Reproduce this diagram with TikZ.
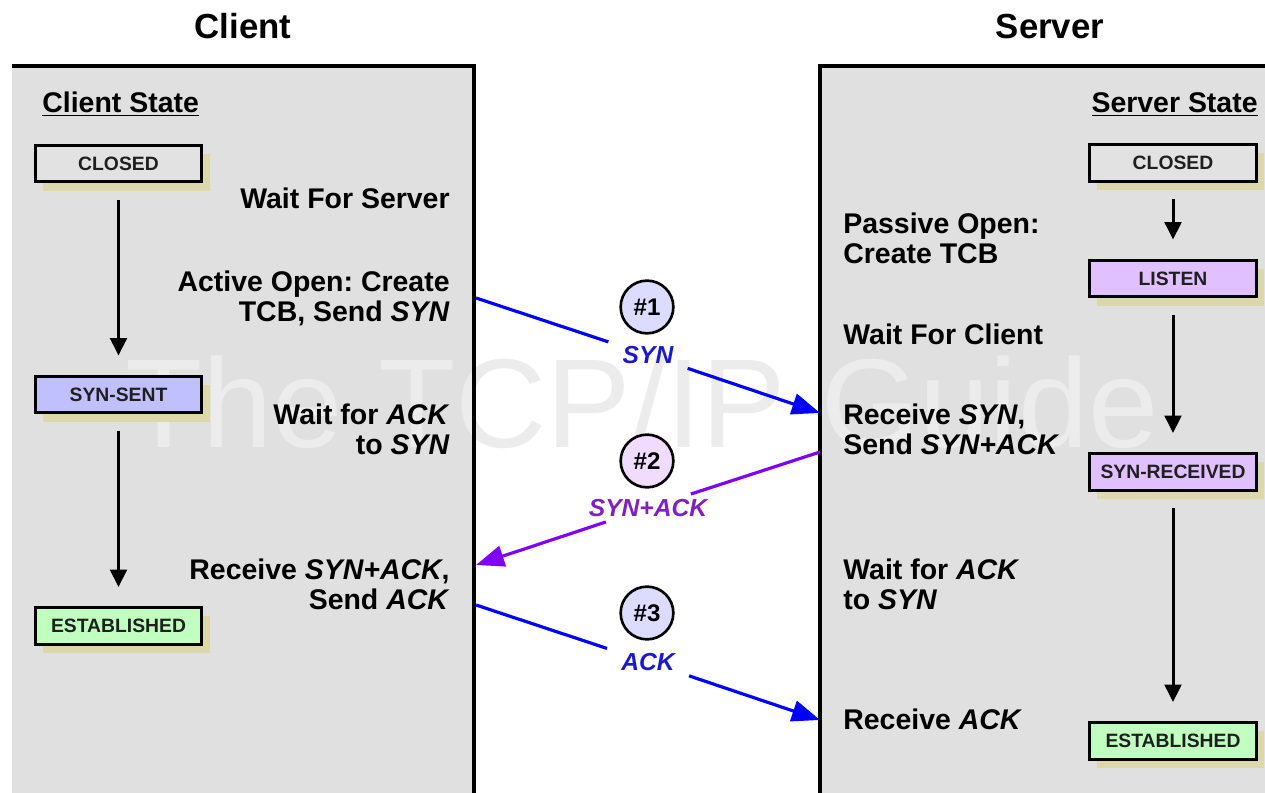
\documentclass[tikz,border=0pt]{standalone}
\usepackage{fontspec}
\setmainfont{Liberation Sans}
\usetikzlibrary{arrows.meta,shadows}
\definecolor{panelgray}{HTML}{E0E0E0}
\definecolor{shadowtan}{HTML}{DCD8AC}
\definecolor{closedc}{HTML}{E2E2E2}
\definecolor{synsentc}{HTML}{C0C0FF}
\definecolor{listenc}{HTML}{E0C0FF}
\definecolor{estc}{HTML}{C0FFC0}
\definecolor{wmark}{HTML}{ECECEC}
\definecolor{msgblue}{HTML}{0000FF}
\definecolor{msgbluetext}{HTML}{1A1ACC}
\definecolor{msgpurple}{HTML}{8000FF}
\definecolor{msgpurpletext}{HTML}{8020C0}
\definecolor{circblue}{HTML}{DCDCFF}
\definecolor{circpurple}{HTML}{F0DCFF}
\frenchspacing
\begin{document}
\begin{tikzpicture}[x=0.02cm,y=-0.02cm,
  titletext/.style={font=\fontsize{19.8}{22}\selectfont\bfseries, anchor=base, inner sep=0pt},
  body/.style={font=\fontsize{16.2}{17.6}\selectfont\bfseries, inner sep=0pt},
  statebox/.style={draw=black, line width=1.7pt, minimum width=95pt, minimum height=21pt,
    inner sep=0pt, font=\fontsize{11}{13}\selectfont\bfseries, text=black!88,
    drop shadow={shadow xshift=4.5pt, shadow yshift=-5pt, fill=shadowtan, opacity=1}},
  sarrow/.style={line width=1.7pt, -{Triangle[length=10pt,width=9.5pt]},
    shorten <=9.3pt, shorten >=10.8pt},
  panelborder/.style={line width=2.6pt, draw=black},
  msgline/.style={line width=1.8pt},
  msgtip/.style={-{Triangle[length=16pt,width=12pt]}},
  msglabel/.style={font=\fontsize{14}{16}\selectfont\bfseries\itshape,
    inner xsep=8pt, inner ysep=2pt, minimum height=15.5pt},
  circ/.style={circle, draw=black, line width=1.5pt, minimum size=30pt, inner sep=0pt,
    font=\fontsize{13.7}{15}\selectfont\bfseries}
]
\useasboundingbox (0,0) rectangle (1265,793);
% panels
\fill[panelgray] (12,66) rectangle (474,793);
\fill[panelgray] (820,66) rectangle (1265,793);
% watermark
\node[anchor=base west, text=wmark, font=\fontsize{72}{80}\selectfont, inner sep=0pt] (wm) at (125,448) {The TCP/IP Guide};
\draw[panelborder] (12,66) -- (474,66) -- (474,793);
\draw[panelborder] (1265,66) -- (820,66) -- (820,793);
% titles
\node[titletext] (tclient) at (243,39) {Client};
\node[titletext] (tserver) at (1050,39) {Server};
\node[body, anchor=base west] (cstate) at (42,113) {\underline{Client State}};
\node[body, anchor=base east] (sstate) at (1258,113) {\underline{Server State}};
% client states
\node[statebox, fill=closedc] (cclosed) at (118.5,163.5) {CLOSED};
\node[statebox, fill=synsentc] (csynsent) at (118.5,394.5) {SYN-SENT};
\node[statebox, fill=estc] (cest) at (118.5,626) {ESTABLISHED};
\draw[sarrow] (cclosed) -- (csynsent);
\draw[sarrow] (csynsent) -- (cest);
% server states
\node[statebox, fill=closedc] (sclosed) at (1173,163) {CLOSED};
\node[statebox, fill=listenc] (slisten) at (1173,278.5) {LISTEN};
\node[statebox, fill=listenc] (ssynrec) at (1173,472) {SYN-RECEIVED};
\node[statebox, fill=estc] (sest) at (1173,741) {ESTABLISHED};
\draw[sarrow] (sclosed) -- (slisten);
\draw[sarrow] (slisten) -- (ssynrec);
\draw[sarrow] (ssynrec) -- (sest);
% client texts (multi-line nodes anchored at the last line's baseline)
\node[body, anchor=base east, align=right] (cwait) at (450,209) {Wait For Server};
\node[body, anchor=base east, align=right] (copen) at (450,322) {Active Open: Create\\TCB, Send \textit{SYN}};
\node[body, anchor=base east, align=right] (cwaitack) at (450,455) {Wait for \textit{ACK}\\to \textit{SYN}};
\node[body, anchor=base east, align=right] (crecv) at (450,610) {Receive \textit{SYN+ACK},\\Send \textit{ACK}};
% server texts
\node[body, anchor=base west, align=left] (spassive) at (843,264) {Passive Open:\\Create TCB};
\node[body, anchor=base west, align=left] (swait) at (843,345) {Wait For Client};
\node[body, anchor=base west, align=left] (srecv) at (843,455) {Receive \textit{SYN},\\Send \textit{SYN+ACK}};
\node[body, anchor=base west, align=left] (swaitack) at (843,610) {Wait for \textit{ACK}\\to \textit{SYN}};
\node[body, anchor=base west, align=left] (srecvack) at (843,729) {Receive \textit{ACK}};
% messages
\coordinate (synA) at (476,298);
\coordinate (synB) at (820,413);
\node[msglabel, text=msgbluetext] (synL) at (648,355) {SYN};
\draw[msgline, draw=msgblue] (synA) -- (synL);
\draw[msgline, draw=msgblue, msgtip] (synL) -- (synB);
\node[circ, fill=circblue] (c1) at (647,307) {\#1};

\coordinate (saA) at (820,452);
\coordinate (saB) at (476,565);
\node[msglabel, text=msgpurpletext] (saL) at (648,508) {SYN+ACK};
\draw[msgline, draw=msgpurple] (saA) -- (saL);
\draw[msgline, draw=msgpurple, msgtip] (saL) -- (saB);
\node[circ, fill=circpurple] (c2) at (647,461) {\#2};

\coordinate (ackA) at (476,605);
\coordinate (ackB) at (820,720);
\node[msglabel, text=msgbluetext] (ackL) at (648,662) {ACK};
\draw[msgline, draw=msgblue] (ackA) -- (ackL);
\draw[msgline, draw=msgblue, msgtip] (ackL) -- (ackB);
\node[circ, fill=circblue] (c3) at (647,613) {\#3};
\end{tikzpicture}
\end{document}
